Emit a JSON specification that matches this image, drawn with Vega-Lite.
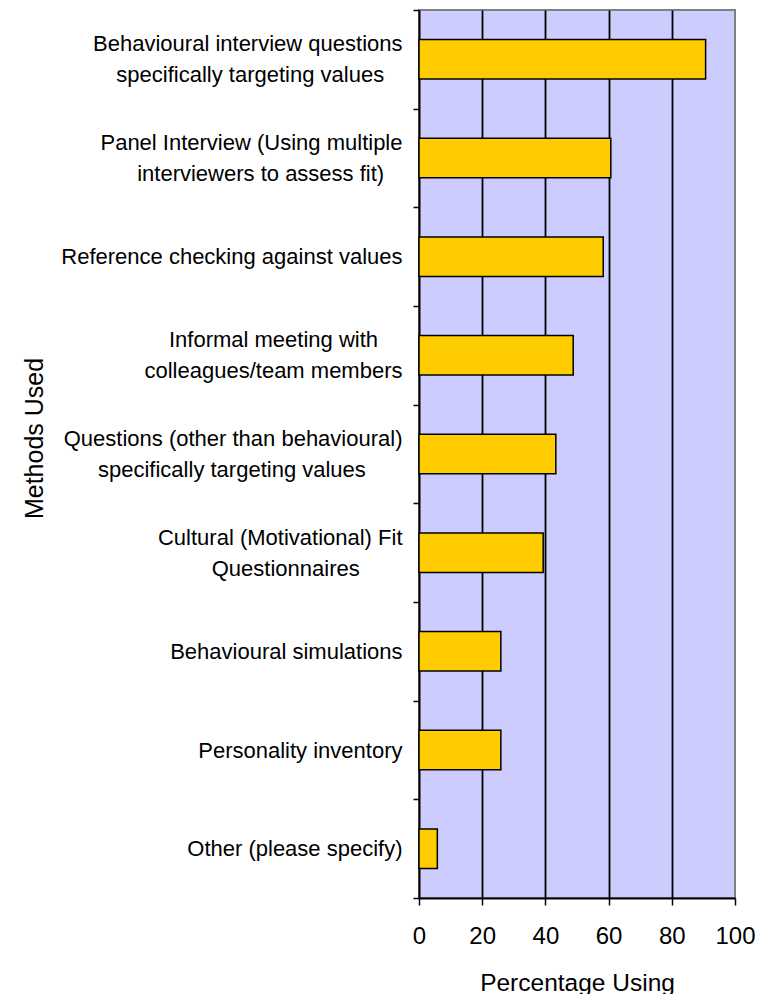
{
  "$schema": "https://vega.github.io/schema/vega-lite/v6.json",
  "autosize": {"type": "none"},
  "width": 316,
  "height": 888,
  "padding": {"left": 419, "top": 10, "right": 34, "bottom": 96},
  "background": "white",
  "config": {
    "font": "Liberation Sans",
    "view": {"fill": "#CCCCFF", "stroke": "#808080", "strokeWidth": 2},
    "axis": {"labelColor": "black", "titleColor": "black", "titleFontWeight": "normal", "domainColor": "black", "tickColor": "black"}
  },
  "data": {
    "values": [
      {"method": "Behavioural interview questions\nspecifically targeting values\u00a0\u00a0\u00a0\u200b", "pct": 90.7},
      {"method": "Panel Interview (Using multiple\ninterviewers to assess fit)\u00a0\u00a0\u00a0\u200b", "pct": 60.7},
      {"method": "Reference checking against values", "pct": 58.3},
      {"method": "Informal meeting with\u00a0\u00a0\u00a0\u00a0\u200b\ncolleagues/team members", "pct": 48.8},
      {"method": "Questions (other than behavioural)\nspecifically targeting values\u00a0\u00a0\u00a0\u00a0\u00a0\u00a0\u200b", "pct": 43.3},
      {"method": "Cultural (Motivational) Fit\nQuestionnaires\u00a0\u00a0\u00a0\u00a0\u00a0\u00a0\u00a0\u200b", "pct": 39.3},
      {"method": "Behavioural simulations", "pct": 25.9},
      {"method": "Personality inventory", "pct": 25.9},
      {"method": "Other (please specify)", "pct": 5.8}
    ]
  },
  "mark": {"type": "bar", "fill": "#FFCC00", "stroke": "black", "strokeWidth": 1.5, "height": {"band": 0.4}},
  "encoding": {
    "y": {
      "field": "method",
      "type": "nominal",
      "sort": null,
      "scale": {"paddingInner": 0, "paddingOuter": 0},
      "axis": {
        "title": "Methods Used",
        "tickBand": "extent",
        "grid": false,
        "labelExpr": "isValid(datum.value) ? split(datum.value, '\\n') : ''",
        "labelFontSize": 22,
        "labelLineHeight": 31,
        "labelAlign": "right",
        "labelBaseline": "middle",
        "labelOffset": {"condition": {"test": "isValid(datum.value) && indexof(datum.value, '\\n') >= 0", "value": -15.5}, "value": 0},
        "labelPadding": 11,
        "labelLimit": 0,
        "tickSize": 6,
        "tickWidth": 1.5,
        "domainWidth": 2,
        "titleFontSize": 25,
        "titleX": -377,
        "titleY": 428,
        "titleAngle": -90,
        "titleAlign": "center",
        "titleBaseline": "alphabetic"
      }
    },
    "x": {
      "field": "pct",
      "type": "quantitative",
      "scale": {"domain": [0, 100]},
      "axis": {
        "title": "Percentage Using",
        "values": [0, 20, 40, 60, 80, 100],
        "grid": true,
        "gridColor": "black",
        "gridWidth": 1.8,
        "gridOpacity": {"condition": {"test": "datum.value == 0 || datum.value == 100", "value": 0}, "value": 1},
        "tickSize": 7,
        "tickWidth": 1.5,
        "domainWidth": 2,
        "labelFontSize": 24,
        "labelBaseline": "alphabetic",
        "labelPadding": 38,
        "labelFlush": false,
        "labelOverlap": false,
        "titleFontSize": 24.5,
        "titleY": 92,
        "titleBaseline": "alphabetic"
      }
    }
  }
}
